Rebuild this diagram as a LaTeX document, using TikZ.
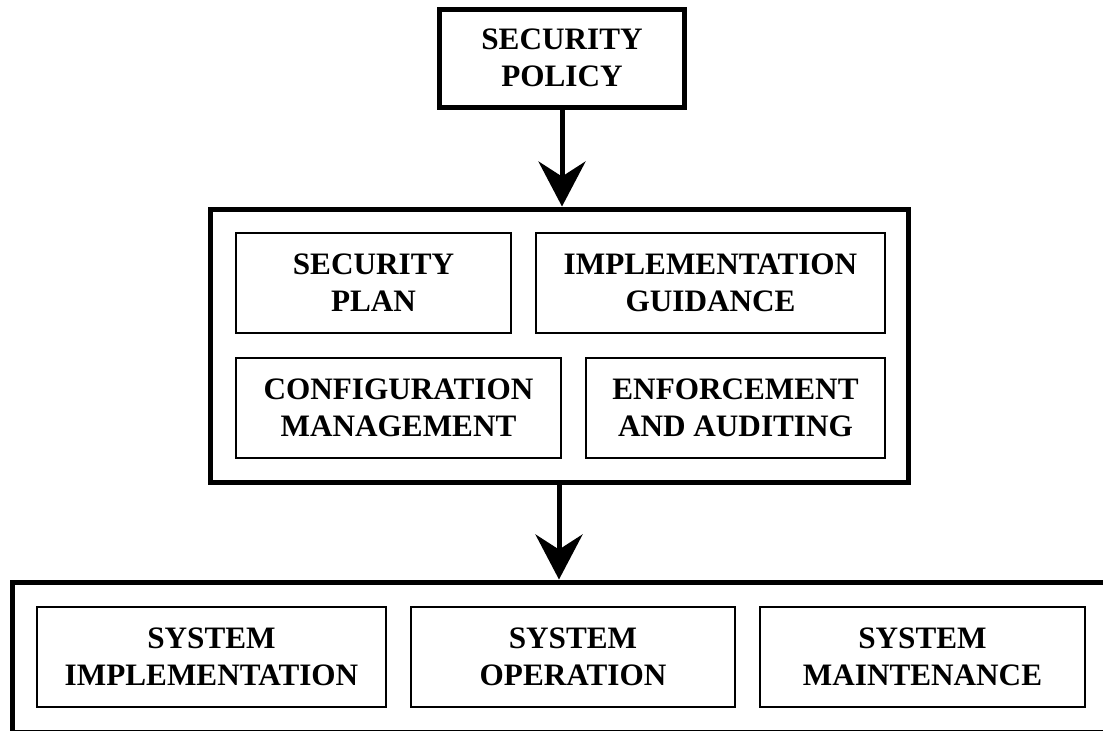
\documentclass[tikz,border=0pt]{standalone}
\usepackage{fontspec}
\setmainfont{Liberation Serif}
\usetikzlibrary{arrows.meta}
\newcommand{\boxfont}{\fontsize{15.6pt}{18.5pt}\selectfont\bfseries}

\begin{document}
\begin{tikzpicture}[x=0.5pt,y=-0.5pt,
		outerbox/.style={draw,line width=2.5pt,align=center,font=\boxfont},
		innerbox/.style={draw,line width=1pt,align=center,font=\boxfont,minimum height=50pt},
		flow/.style={line width=2.5pt,-{Stealth[length=22.5pt,width=23.5pt,inset=7.5pt]}}]
		\clip (0,0) rectangle (1103,730);
		% policy on top
		\node[outerbox,minimum width=122.5pt,minimum height=49pt] (policy) at (562,58) {SECURITY\\POLICY};
		% middle frame with four boxes
		\node[outerbox,minimum width=349pt,minimum height=136.5pt] (frame) at (559,345.5) {};
		\node[innerbox,minimum width=137.5pt] (plan) at (373.5,283) {SECURITY\\PLAN};
		\node[innerbox,minimum width=174.5pt] (guide) at (710.5,283) {IMPLEMENTATION\\GUIDANCE};
		\node[innerbox,minimum width=162.5pt] (config) at (398.5,408) {CONFIGURATION\\MANAGEMENT};
		\node[innerbox,minimum width=149.5pt] (audit) at (735.5,408) {ENFORCEMENT\\AND AUDITING};
		% bottom frame, runs past the page
		\node[outerbox,minimum width=559pt,minimum height=75pt] (lifecycle) at (571,657) {};
		\foreach \cx/\w/\name/\txt in {211.5/174.5/impl/{SYSTEM\\IMPLEMENTATION},
				573/162/oper/{SYSTEM\\OPERATION},
				922.5/162.5/maint/{SYSTEM\\MAINTENANCE}}
		\node[innerbox,minimum width=\w pt] (\name) at (\cx,657) {\txt};
		\draw[flow] (policy) -- (policy |- frame.north);
		\draw[flow] (frame) -- (frame |- lifecycle.north);
\end{tikzpicture}
\end{document}
